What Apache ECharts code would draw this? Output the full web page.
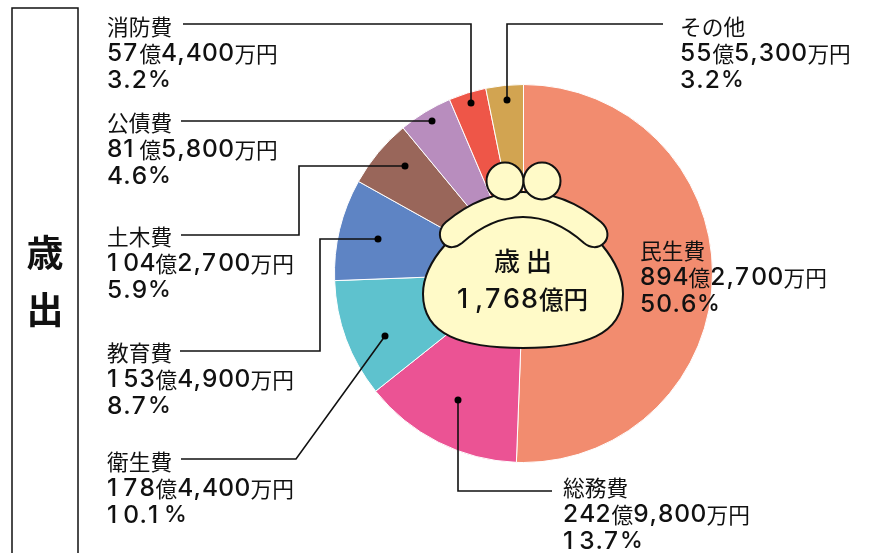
<!DOCTYPE html>
<html>
<head>
<meta charset="utf-8">
<style>
html, body { margin: 0; padding: 0; background: #fff; }
#main { width: 874px; height: 553px; }
</style>
<script src="https://cdn.jsdelivr.net/npm/echarts@6/dist/echarts.min.js"></script>
</head>
<body>
<div id="main"></div>
<script>
const categories = ['民生費', '総務費', '衛生費', '教育費', '土木費', '公債費', '消防費', 'その他']
const amounts = ['894億2,700万円', '242億9,800万円', '178億4,400万円', '153億4,900万円', '104億2,700万円', '81億5,800万円', '57億4,400万円', '55億5,300万円']
const shares = [50.6, 13.7, 10.1, 8.7, 5.9, 4.6, 3.2, 3.2]
const colors = ['#F28C6F', '#EB5394', '#5EC2CE', '#5E84C4', '#99665A', '#B88DBE', '#EE5648', '#D2A451']

const labelPos = [[640, 238], [563, 475], [107, 449], [107, 340], [107, 224], [107, 110], [107, 14], [680, 14]]
const leaders = [
   null,
   [[458, 400], [458, 491], [552, 491]],
   [[385, 336], [296, 459], [181, 459]],
   [[378, 239], [320, 239], [320, 351], [180, 351]],
   [[405, 166], [299, 166], [299, 235], [181, 235]],
   [[432, 121], [181, 121]],
   [[471, 103], [471, 24], [183, 24]],
   [[507, 100], [507, 24], [663, 24]]
]

const jp = '"Noto Sans CJK JP"'
const purseFill = '#FFFAC8'

// 数字は1文字ずつ固定幅にして元の字間に合わせる
function richLine(s) {
   return s.split('').map(function (ch) {
      if (/[0-9]/.test(ch)) return '{n|' + ch + '}'
      if (ch === ',' || ch === '.') return '{c|' + ch + '}'
      if (ch === '%') return '{p|%}'
      return '{j|' + ch + '}'
   }).join('')
}

// がま口の本体とふた
echarts.graphic.registerShape('purseBody', echarts.graphic.extendShape({
   buildPath: function (ctx) {
      ctx.moveTo(445, 245)
      ctx.bezierCurveTo(430, 262, 423, 278, 423, 294)
      ctx.bezierCurveTo(423, 335, 462, 348, 523, 348)
      ctx.bezierCurveTo(584, 348, 623, 335, 623, 294)
      ctx.bezierCurveTo(623, 278, 616, 262, 602, 245)
      ctx.bezierCurveTo(575, 195, 470, 195, 445, 245)
      ctx.closePath()
   }
}))
echarts.graphic.registerShape('purseFlap', echarts.graphic.extendShape({
   buildPath: function (ctx) {
      ctx.moveTo(446, 222)
      ctx.bezierCurveTo(470, 202, 495, 192, 523, 192)
      ctx.bezierCurveTo(551, 192, 577, 202, 601, 222)
      ctx.bezierCurveTo(609, 229, 609, 238, 604, 243)
      ctx.bezierCurveTo(598, 249, 590, 248, 584, 243)
      ctx.bezierCurveTo(565, 226, 545, 217, 523, 217)
      ctx.bezierCurveTo(501, 217, 481, 226, 462, 243)
      ctx.bezierCurveTo(456, 248, 448, 249, 443, 243)
      ctx.bezierCurveTo(438, 237, 439, 228, 446, 222)
      ctx.closePath()
   }
}))

let graphics = [
   { type: 'rect', shape: { x: 12, y: 8, width: 66, height: 560 }, style: { fill: '#fff', stroke: '#111', lineWidth: 1.5 } },
   { type: 'text', x: 45, y: 253, style: { text: '歳', font: 'bold 37px ' + jp, fill: '#111', align: 'center', verticalAlign: 'middle' } },
   { type: 'text', x: 45, y: 310, style: { text: '出', font: 'bold 37px ' + jp, fill: '#111', align: 'center', verticalAlign: 'middle' } }
]

leaders.forEach(function (pts) {
   if (!pts) return
   graphics.push({ type: 'polyline', z: 20, shape: { points: pts }, style: { fill: null, stroke: '#111', lineWidth: 1.6 } })
   graphics.push({ type: 'circle', z: 20, shape: { cx: pts[0][0], cy: pts[0][1], r: 3.5 }, style: { fill: '#000' } })
})

graphics.push(
   { type: 'purseBody', z: 30, shape: {}, style: { fill: purseFill, stroke: '#111', lineWidth: 2 } },
   { type: 'purseFlap', z: 31, shape: {}, style: { fill: purseFill, stroke: '#111', lineWidth: 2 } },
   { type: 'circle', z: 32, shape: { cx: 505, cy: 181, r: 18.5 }, style: { fill: purseFill, stroke: '#111', lineWidth: 2 } },
   { type: 'circle', z: 32, shape: { cx: 542, cy: 181, r: 18.5 }, style: { fill: purseFill, stroke: '#111', lineWidth: 2 } },
   {
      type: 'text', z: 33, x: 523, y: 261,
      style: { text: '歳 出', font: '500 26px ' + jp, fill: '#111', align: 'center', verticalAlign: 'middle' }
   },
   {
      type: 'text', z: 33, x: 457, y: 300,
      style: {
         text: '{n|1}{c|,}{n|7}{n|6}{n|8}{j|億}{j|円}', align: 'left', verticalAlign: 'middle', fill: '#111',
         rich: {
            n: { fontFamily: 'Inter', fontWeight: 500, fontSize: 27, width: 18, fill: '#111' },
            c: { fontFamily: 'Inter', fontWeight: 500, fontSize: 27, width: 10, fill: '#111' },
            j: { fontFamily: jp, fontWeight: 500, fontSize: 24.5, fill: '#111' }
         }
      }
   }
)

let myChart = echarts.init(document.getElementById('main'))

myChart.setOption({
   animation: false,
   backgroundColor: '#fff',
   color: colors,
   series: [{
      type: 'pie',
      center: [523.5, 273.5],
      radius: [0, 189],
      startAngle: 90,
      clockwise: true,
      silent: true,
      itemStyle: { borderColor: '#fff', borderWidth: 1 },
      labelLine: { show: false },
      label: {
         show: true,
         position: 'inner',
         color: '#111',
         formatter: function (p) {
            return richLine(categories[p.dataIndex]) + '\n' + richLine(amounts[p.dataIndex]) + '\n' + richLine(shares[p.dataIndex].toFixed(1) + '%')
         },
         rich: {
            n: { fontFamily: 'Inter', fontWeight: 500, fontSize: 24.5, lineHeight: 26.5, width: 16.2, color: '#111' },
            c: { fontFamily: 'Inter', fontWeight: 500, fontSize: 24.5, lineHeight: 26.5, width: 8.5, color: '#111' },
            p: { fontFamily: 'Inter', fontWeight: 500, fontSize: 23, lineHeight: 26.5, color: '#111' },
            j: { fontFamily: jp, fontWeight: 400, fontSize: 21.7, lineHeight: 26.5, color: '#111' }
         }
      },
      labelLayout: function (p) {
         return { x: labelPos[p.dataIndex][0], y: labelPos[p.dataIndex][1], align: 'left', verticalAlign: 'top', hideOverlap: false }
      },
      data: categories.map(function (c, i) {
         return { name: c, value: shares[i] }
      })
   }],
   graphic: graphics
})
</script>
</body>
</html>
